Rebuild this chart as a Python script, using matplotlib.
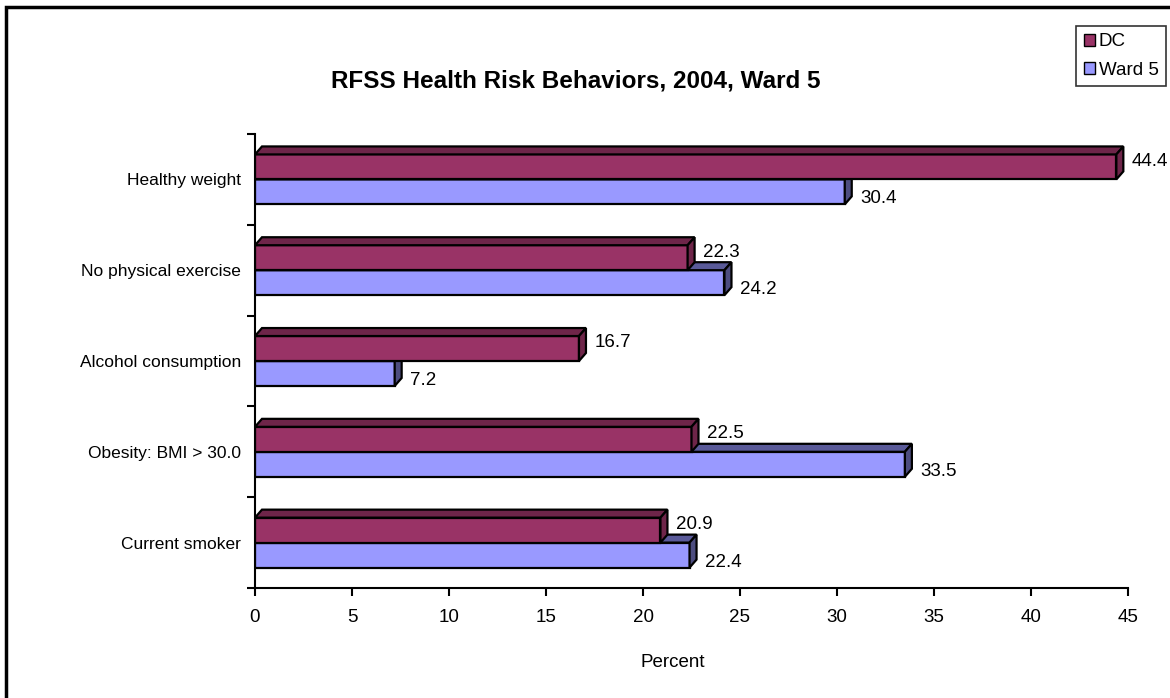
"""RFSS Health Risk Behaviors, 2004, Ward 5 -> out.png (Excel-style 3D horizontal bars)."""
import matplotlib
matplotlib.use("Agg")
import matplotlib.pyplot as plt
from matplotlib.patches import Polygon, Rectangle

# bottom -> top, as drawn
categories = ["Current smoker", "Obesity: BMI > 30.0", "Alcohol consumption",
              "No physical exercise", "Healthy weight"]
dc = [20.9, 22.5, 16.7, 22.3, 44.4]
ward5 = [22.4, 33.5, 7.2, 24.2, 30.4]
series_names = ["DC", "Ward 5"]
x_ticks = [0, 5, 10, 15, 20, 25, 30, 35, 40, 45]

# colours: front, top face, side face
DC_COLS = ("#993366", "#6e2549", "#6e2549")
WARD_COLS = ("#9999ff", "#5a5a99", "#4d4d80")

BAR_H = 0.275   # one bar, in category units
DX, DY = 0.36, 0.088  # depth offset (x in percent, y in category units)
LW = 1.6
FS = 13.5

plt.rcParams["font.family"] = ["Liberation Sans", "DejaVu Sans"]


def bar3d(ax, y0, v, cols):
    front, top, side = cols
    y1 = y0 + BAR_H
    kw = dict(ec="black", lw=LW, joinstyle="miter")
    ax.add_patch(Polygon([(0, y0), (v, y0), (v, y1), (0, y1)], fc=front, **kw))
    ax.add_patch(Polygon([(0, y1), (DX, y1 + DY), (v + DX, y1 + DY), (v, y1)], fc=top, **kw))
    ax.add_patch(Polygon([(v, y0), (v + DX, y0 + DY), (v + DX, y1 + DY), (v, y1)], fc=side, **kw))


fig = plt.figure(figsize=(11.7, 6.98), dpi=100)
ax = fig.add_axes([255 / 1170, 1 - 588 / 698, (1128 - 255) / 1170, (588 - 134) / 698])

for i, (d, w) in enumerate(zip(dc, ward5)):
    mid = i + 0.5
    bar3d(ax, mid - BAR_H, w, WARD_COLS)
    bar3d(ax, mid, d, DC_COLS)
    ax.annotate(f"{d:.1f}", (d + DX, mid + BAR_H / 2), xytext=(6, 4),
                textcoords="offset points", va="center", ha="left", fontsize=FS,
                annotation_clip=False)
    ax.annotate(f"{w:.1f}", (w + DX, mid - BAR_H / 2), xytext=(6, -5),
                textcoords="offset points", va="center", ha="left", fontsize=FS,
                annotation_clip=False)

ax.set_xlim(0, 45)
ax.set_ylim(0, len(categories))
ax.set_xticks(x_ticks)
ax.set_yticks([i + 0.5 for i in range(len(categories))])
ax.set_yticklabels(categories)
ax.set_yticks(range(len(categories) + 1), minor=True)
ax.tick_params(axis="x", direction="out", length=6, width=1.5, labelsize=FS, pad=9)
ax.tick_params(axis="y", which="major", length=0, labelsize=12.5, pad=10)
ax.tick_params(axis="y", which="minor", direction="out", length=6, width=1.5)
for s in ("top", "right"):
    ax.spines[s].set_visible(False)
for s in ("left", "bottom"):
    ax.spines[s].set_linewidth(1.5)
ax.set_xlabel("Percent", fontsize=FS)
ax.xaxis.set_label_coords(0.478, -0.146)

fig.text(576 / 1170, 1 - 81 / 698, "RFSS Health Risk Behaviors, 2004, Ward 5",
         ha="center", va="center", fontsize=17.5, fontweight="bold")

# legend box, Excel style
leg = ax.legend(handles=[Rectangle((0, 0), 1, 1, fc=DC_COLS[0], ec="black", lw=1),
                         Rectangle((0, 0), 1, 1, fc=WARD_COLS[0], ec="black", lw=1)],
                labels=series_names, loc="upper right", bbox_to_anchor=(1166 / 1170, 1 - 26 / 698),
                bbox_transform=fig.transFigure, fontsize=FS, frameon=True, fancybox=False,
                handlelength=0.6, handleheight=0.6, handletextpad=0.2, borderpad=0.4,
                labelspacing=0.6, borderaxespad=0)
leg.get_frame().set_edgecolor("black")
leg.get_frame().set_linewidth(1.2)

# outer chart-area border
fig.patches.append(Rectangle((6 / 1170, -0.05), 1.1, 1 - 7 / 698 + 0.05, transform=fig.transFigure,
                             fill=False, ec="black", lw=2.5))

fig.savefig("out.png", dpi=100)
